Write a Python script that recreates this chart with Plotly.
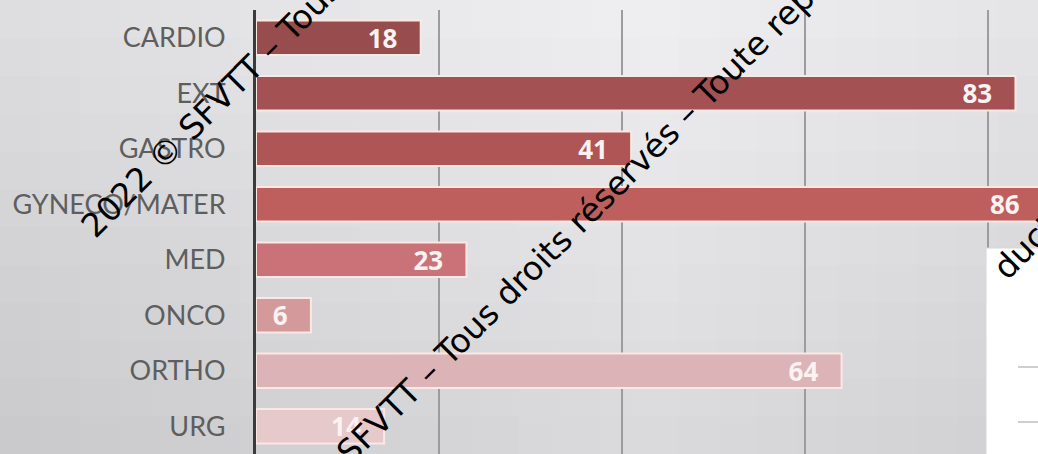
import math
import plotly.graph_objects as go

# ---- data ----
categories = ["CARDIO", "EXT", "GASTRO", "GYNECO/MATER", "MED", "ONCO", "ORTHO", "URG"]
values = [18, 83, 41, 86, 23, 6, 64, 14]
bar_colors = ["#974c4e", "#a35153", "#af5556", "#be5f5e", "#c97277", "#d4999b", "#dcb3b7", "#e6c9ca"]
grid_ticks = [20, 40, 60, 80]
watermark = "2022 © SFVTT – Tous droits réservés – Toute reproduction interdite"
watermark_tail = "duction interdite"

# ---- layout geometry ----
W, H = 1038, 454
L, R, T, B = 256, 0, 10, 0
PW, PH = W - L - R, H - T - B
PX_PER_UNIT = 9.15
XMAX = PW / PX_PER_UNIT


def fx(x):
    return (x - L) / PW


def fy(y):
    return (H - B - y) / PH


shapes = []
# soft grey gradient background
NC, NR = 26, 12
for i in range(NC):
    for j in range(NR):
        x0, x1 = i * W / NC, (i + 1) * W / NC
        y0, y1 = j * H / NR, (j + 1) * H / NR
        cx, cy = (x0 + x1) / 2, (y0 + y1) / 2
        v = 240 - 22 * (cy / H) - 17 * abs(cx - 650) / 650
        v = int(max(0, min(255, v)))
        col = "rgb(%d,%d,%d)" % (v, v, min(255, v + 2))
        shapes.append(dict(type="rect", xref="paper", yref="paper",
                           x0=fx(x0), x1=fx(x1 + 1), y0=fy(y1 + 1), y1=fy(y0),
                           fillcolor=col, line=dict(width=0), layer="below"))

# white box at bottom right
shapes.append(dict(type="rect", xref="paper", yref="paper",
                   x0=fx(986), x1=fx(1042), y0=fy(458), y1=fy(248),
                   fillcolor="white", line=dict(color="#d6d6d6", width=1), layer="above"))
for yy in (367, 422):
    shapes.append(dict(type="line", xref="paper", yref="paper",
                       x0=fx(1018), x1=fx(1040), y0=fy(yy), y1=fy(yy),
                       line=dict(color="#cfcfcf", width=2), layer="above"))

pad = "\u00a0" * 3
fig = go.Figure()
fig.add_trace(go.Bar(
    x=values, y=categories, orientation="h",
    marker=dict(color=bar_colors, line=dict(color="#fbe8e3", width=2)),
    width=0.62,
    text=[str(v) + pad for v in values],
    textposition="inside", insidetextanchor="end",
    textangle=0, constraintext="none",
    textfont=dict(family="Open Sans", size=26, color="#fbf2f2", weight="bold"),
    hoverinfo="skip",
))

# watermark annotations (rotated text)
EM = 33.0
ang = math.radians(45)
ux, uy = math.cos(ang), -math.sin(ang)
annotations = []
for (dx_, dy_) in [(265, 54), (423, 378)]:
    off = (16.95 - 7.864) * EM
    cx, cy = dx_ + off * ux, dy_ + off * uy
    annotations.append(dict(text=watermark, xref="paper", yref="paper",
                            x=fx(cx), y=fy(cy), xanchor="center", yanchor="middle",
                            showarrow=False, textangle=-45,
                            font=dict(family="DejaVu Sans", size=EM, color="black")))
off = (4.15 - 0.91) * EM
cx, cy = 1020 + off * ux, 252 + off * uy
annotations.append(dict(text=watermark_tail, xref="paper", yref="paper",
                        x=fx(cx), y=fy(cy), xanchor="center", yanchor="middle",
                        showarrow=False, textangle=-45,
                        font=dict(family="DejaVu Sans", size=EM, color="black")))

fig.update_layout(
    width=W, height=H,
    margin=dict(l=L, r=R, t=T, b=B, pad=0),
    paper_bgcolor="#e2e2e2",
    plot_bgcolor="rgba(0,0,0,0)",
    showlegend=False,
    shapes=shapes,
    annotations=annotations,
    xaxis=dict(range=[0, XMAX], tickvals=grid_ticks, showticklabels=False,
               showgrid=True, gridcolor="#9c9c9c", gridwidth=1.5,
               zeroline=False, showline=False, fixedrange=True),
    yaxis=dict(categoryorder="array", categoryarray=categories,
               range=[len(categories) - 0.5, -0.5],
               showline=True, linecolor="#3b3b3b", linewidth=3,
               showgrid=False, zeroline=False, ticks="",
               ticklabelstandoff=22,
               tickfont=dict(family="Lato", size=27, color="#5e5e5e"),
               fixedrange=True),
)

fig.write_html("out.html")
